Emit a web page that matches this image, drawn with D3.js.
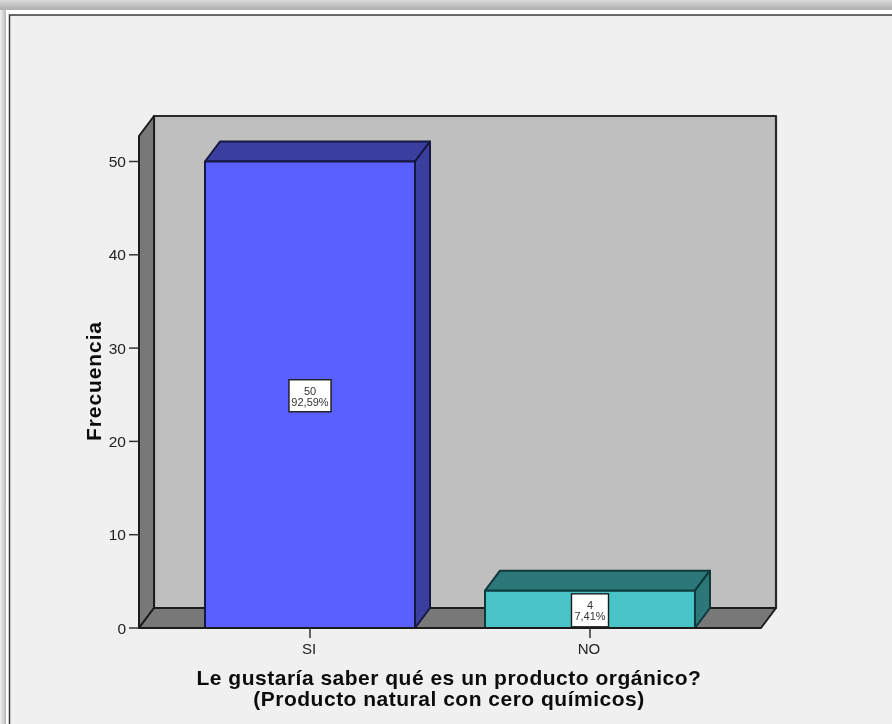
<!DOCTYPE html>
<html><head><meta charset="utf-8">
<script src="https://cdn.jsdelivr.net/npm/d3@7/dist/d3.min.js"></script>
<style>html,body{margin:0;padding:0;background:#f0f0f0;overflow:hidden}svg{display:block;filter:blur(0.4px)}</style>
</head><body><svg id="c" width="892" height="724"></svg>
<script>
const categories = ["SI", "NO"];
const frequencies = [50, 4];
const percentLabels = ["92,59%", "7,41%"];
const yTicks = [0, 10, 20, 30, 40, 50];
const yAxisTitle = "Frecuencia";
const xAxisTitle = ["Le gustaría saber qué es un producto orgánico?", "(Producto natural con cero químicos)"];
const barColors = ["#5a60ff", "#48c4c9"];
const barTopColors = ["#3a3f9f", "#2c7778"];
const barSideColors = ["#3a3f9f", "#2c7778"];

const svg = d3.select("#c");
const W = 892, H = 724;
const left = 139, right = 761, bottom = 628, topY = 136;
const dx = 15, dy = -20;
const y = d3.scaleLinear().domain([0, 50]).range([bottom, 161.5]);
const x = d3.scaleBand().domain(categories).range([205, 695]).paddingInner(0.25).paddingOuter(0);
const barX = c => x(c);
const sans = "'Liberation Sans', Arial, sans-serif";
const ink = "#1c1c1c";

// Window shadow and frame
const defs = svg.append("defs");
const gt = defs.append("linearGradient").attr("id","st").attr("x1",0).attr("x2",0).attr("y1",0).attr("y2",1);
gt.append("stop").attr("offset",0).attr("stop-color","#d8d8d8");
gt.append("stop").attr("offset",1).attr("stop-color","#aeaeae");
const gl = defs.append("linearGradient").attr("id","sl");
gl.append("stop").attr("offset",0).attr("stop-color","#f0f0f0");
gl.append("stop").attr("offset",1).attr("stop-color","#b8b8b8");
svg.append("rect").attr("width",W).attr("height",H).attr("fill","#f0f0f0");
svg.append("rect").attr("x",0).attr("y",0).attr("width",W).attr("height",10).attr("fill","url(#st)");
svg.append("rect").attr("x",0).attr("y",10).attr("width",6).attr("height",H-10).attr("fill","url(#sl)");
svg.append("rect").attr("x",6).attr("y",10).attr("width",W-6).attr("height",H-10).attr("fill","#ffffff");
svg.append("rect").attr("x",9.5).attr("y",15).attr("width",W).attr("height",H).attr("fill","#f0f0f0").attr("stroke","#3a3a3a").attr("stroke-width",1.5);

// 3-D chart box
const poly = (pts, fill, stroke, sw) => svg.append("polygon")
  .attr("points", pts.map(p => p.join(",")).join(" "))
  .attr("fill", fill).attr("stroke", stroke || ink).attr("stroke-width", sw || 2).attr("stroke-linejoin","round");
poly([[left+dx,topY+dy],[right+dx,topY+dy],[right+dx,bottom+dy],[left+dx,bottom+dy]], "#bfbfbf", "#2a2a2a", 2.2);
poly([[left,topY],[left+dx,topY+dy],[left+dx,bottom+dy],[left,bottom]], "#787878");
poly([[left,bottom],[left+dx,bottom+dy],[right+dx,bottom+dy],[right,bottom]], "#787878");

// Bars
categories.forEach((c, i) => {
  const x0 = barX(c), x1 = x0 + x.bandwidth(), yt = y(frequencies[i]);
  const edge = i === 0 ? "#15183f" : "#0f3a3c";
  poly([[x0,yt],[x0+dx,yt+dy],[x1+dx,yt+dy],[x1,yt]], barTopColors[i], edge);
  poly([[x1,yt],[x1+dx,yt+dy],[x1+dx,bottom+dy],[x1,bottom]], barSideColors[i], edge);
  poly([[x0,yt],[x1,yt],[x1,bottom],[x0,bottom]], barColors[i], edge);
});

// Baseline
svg.append("line").attr("x1",left).attr("x2",right).attr("y1",bottom).attr("y2",bottom).attr("stroke",ink).attr("stroke-width",1.8);

// Y axis
const yG = svg.append("g");
yTicks.forEach(t => {
  yG.append("line").attr("x1",left-10).attr("x2",left).attr("y1",y(t)).attr("y2",y(t)).attr("stroke","#333").attr("stroke-width",1.5);
  yG.append("text").attr("x",left-13).attr("y",y(t)+5.5).attr("text-anchor","end")
    .attr("font-family",sans).attr("font-size",15.5).attr("fill","#222").text(t);
});

// X axis
categories.forEach(c => {
  const cx = barX(c) + x.bandwidth()/2;
  svg.append("line").attr("x1",cx).attr("x2",cx).attr("y1",bottom).attr("y2",bottom+10).attr("stroke","#333").attr("stroke-width",1.5);
  svg.append("text").attr("x",cx-1).attr("y",bottom+26).attr("text-anchor","middle")
    .attr("font-family",sans).attr("font-size",15).attr("fill","#222").text(c);
});

// Axis titles
svg.append("text").attr("transform","translate(100.5,381) rotate(-90)").attr("text-anchor","middle")
  .attr("font-family",sans).attr("font-size",21).attr("font-weight","bold").attr("letter-spacing",0.9).attr("fill","#0c0c0c").text(yAxisTitle);
xAxisTitle.forEach((t, i) => svg.append("text").attr("x",449).attr("y",685+i*21).attr("text-anchor","middle")
  .attr("font-family",sans).attr("font-size",21).attr("font-weight","bold").attr("letter-spacing",0.5).attr("fill","#0c0c0c").text(t));

// Data labels
categories.forEach((c, i) => {
  const cx = barX(c) + x.bandwidth()/2;
  const labelY = y(frequencies[i]/2) + 1;
  const bw = i === 0 ? 42 : 37, bh = i === 0 ? 32 : 33;
  svg.append("rect").attr("x",cx-bw/2).attr("y",labelY-bh/2).attr("width",bw).attr("height",bh)
    .attr("fill","#fff").attr("stroke",ink).attr("stroke-width",1.4);
  svg.append("text").attr("x",cx).attr("y",labelY-1).attr("text-anchor","middle")
    .attr("font-family",sans).attr("font-size",11).attr("fill","#333").text(frequencies[i]);
  svg.append("text").attr("x",cx).attr("y",labelY+10).attr("text-anchor","middle")
    .attr("font-family",sans).attr("font-size",11).attr("fill","#333").text(percentLabels[i]);
});
</script></body></html>
